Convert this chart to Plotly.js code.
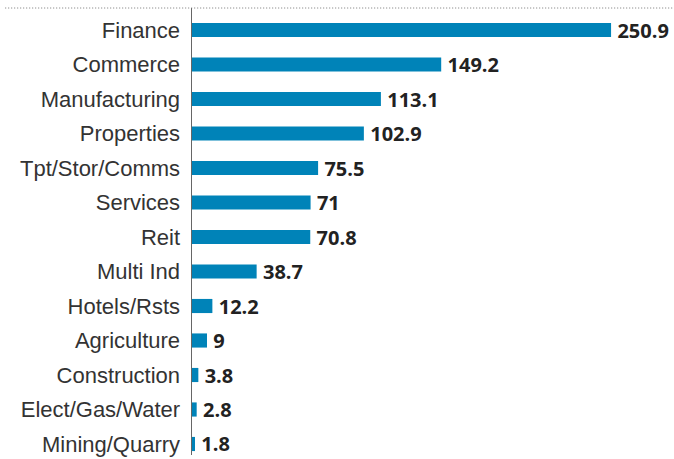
<!DOCTYPE html>
<html><head><meta charset="utf-8">
<script src="https://cdn.plot.ly/plotly-3.0.1.min.js"></script>
<style>html,body{margin:0;padding:0;background:#fff}#chart{width:674px;height:459px}</style>
</head><body><div id="chart"></div>
<script>
const sectors = ["Finance","Commerce","Manufacturing","Properties","Tpt/Stor/Comms","Services","Reit","Multi Ind","Hotels/Rsts","Agriculture","Construction","Elect/Gas/Water","Mining/Quarry"];
const values = [250.9,149.2,113.1,102.9,75.5,71,70.8,38.7,12.2,9,3.8,2.8,1.8];
const valueLabels = ["250.9","149.2","113.1","102.9","75.5","71","70.8","38.7","12.2","9","3.8","2.8","1.8"];

const L = 192, W = 466.5, T = 8, H = 447;
const data = [{
  type: 'bar', orientation: 'h',
  x: values, y: sectors,
  text: valueLabels, texttemplate: '\u2009%{text}', textposition: 'outside', textangle: 0, cliponaxis: false, constraintext: 'none',
  textfont: {family: 'Open Sans, Liberation Sans, sans-serif', size: 20, color: '#222', weight: 'bold'},
  marker: {color: '#0083b8'},
  width: 0.41,
  hoverinfo: 'none'
}];
const layout = {
  width: 674, height: 459,
  margin: {l: L, r: 674 - L - W, t: T, b: 459 - T - H},
  paper_bgcolor: '#fff', plot_bgcolor: '#fff',
  showlegend: false,
  xaxis: {range: [0, 279], visible: false, fixedrange: true},
  yaxis: {
    type: 'category', categoryorder: 'array', categoryarray: sectors,
    range: [12.319, -0.638],
    showline: true, linecolor: '#666', linewidth: 1.5,
    showgrid: false, zeroline: false, ticks: '', ticklabelstandoff: 6,
    tickfont: {family: 'Liberation Sans, Arial, sans-serif', size: 22, color: '#333'}
  },
  shapes: [{type: 'line', xref: 'paper', yref: 'paper', layer: 'above', x0: (5 - L) / W, x1: (674 - L) / W, y0: 1, y1: 1,
    line: {color: '#777', width: 1, dash: '1px,2px'}}]
};
Plotly.newPlot('chart', data, layout, {displayModeBar: false, staticPlot: true});
</script></body></html>
